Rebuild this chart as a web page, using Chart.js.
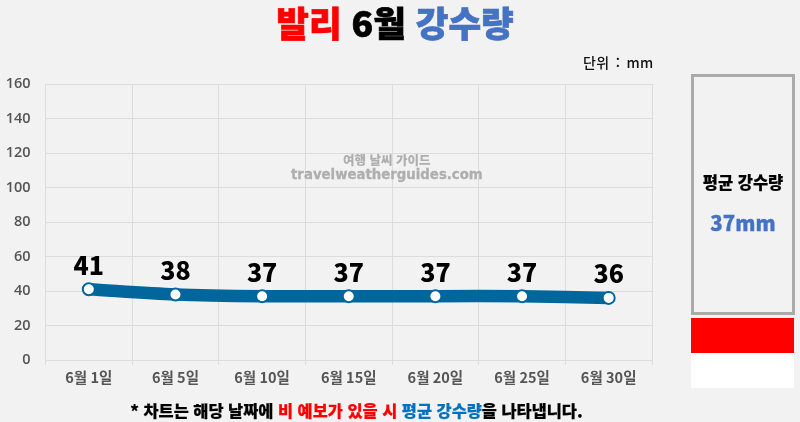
<!DOCTYPE html>
<html lang="ko">
<head>
<meta charset="utf-8">
<title>발리 6월 강수량</title>
<script src="https://cdn.jsdelivr.net/npm/chart.js@4/dist/chart.umd.min.js"></script>
<style>
    html, body { margin: 0; padding: 0; background: #f2f2f2; }
    body { width: 800px; height: 422px; position: relative; overflow: hidden; font-family: "Noto Sans CJK KR", sans-serif; }
    #rainChart { position: absolute; left: 0; top: 0; }
    .abs { position: absolute; white-space: nowrap; line-height: 1; }
    #title { left: 0; width: 790px; top: 4px; text-align: center; font-size: 35.5px; font-weight: 900; color: #000; -webkit-text-stroke: 0.7px currentColor; }
    #unit { left: 583px; top: 55px; font-size: 14px; font-weight: 500; color: #111; word-spacing: 2px; letter-spacing: 0.35px; }
    #mark1 { left: 343px; top: 154px; font-size: 12.5px; font-weight: 900; color: #aeaeae; }
    #mark2 { left: 291px; top: 168px; font-size: 13.3px; font-weight: 700; font-family: "DejaVu Sans", sans-serif; color: #aeaeae; -webkit-text-stroke: 0.3px currentColor; }
    #avgBox { left: 691px; top: 74px; width: 98px; height: 235px; border: 3px solid #aaa; }
    #avgLabel { left: 691px; width: 104px; top: 174px; text-align: center; font-size: 16.5px; font-weight: 900; color: #000; -webkit-text-stroke: 0.2px currentColor; }
    #avgValue { left: 691px; width: 104px; top: 212px; text-align: center; font-size: 20.5px; font-weight: 900; color: #4472c4; -webkit-text-stroke: 0.3px currentColor; }
    #flagRed { left: 691px; top: 318px; width: 103px; height: 35px; background: #ff0000; }
    #flagWhite { left: 691px; top: 353px; width: 103px; height: 35px; background: #fff; }
    #note { left: 0; width: 713px; top: 402px; text-align: center; font-size: 16.4px; font-weight: 900; color: #000; -webkit-text-stroke: 0.2px currentColor; }
    .red { color: #ff0000; }
    .blue { color: #4472c4; }
    .blue2 { color: #0070c0; }
</style>
</head>
<body>
<canvas id="rainChart" width="800" height="422"></canvas>
<div class="abs" id="title"><span class="red">발리</span> 6월 <span class="blue">강수량</span></div>
<div class="abs" id="unit">단위 : mm</div>
<div class="abs" id="mark1">여행 날씨 가이드</div>
<div class="abs" id="mark2">travelweatherguides.com</div>
<div class="abs" id="avgBox"></div>
<div class="abs" id="avgLabel">평균 강수량</div>
<div class="abs" id="avgValue">37mm</div>
<div class="abs" id="flagRed"></div>
<div class="abs" id="flagWhite"></div>
<div class="abs" id="note">* 차트는 해당 날짜에 <span class="red">비 예보가 있을 시</span> <span class="blue2">평균 강수량</span>을 나타냅니다.</div>

<script>
const categories = ['6월 1일', '6월 5일', '6월 10일', '6월 15일', '6월 20일', '6월 25일', '6월 30일'];
const rainfall = [41, 38, 37, 37, 37, 37, 36];
const yTicks = [0, 20, 40, 60, 80, 100, 120, 140, 160];

// value labels above each point
const valueLabels = {
    id: 'valueLabels',
    afterDatasetsDraw(chart) {
        const ctx = chart.ctx;
        ctx.save();
        ctx.font = '900 25px "Noto Sans CJK KR"';
        ctx.fillStyle = '#000';
        ctx.textAlign = 'center';
        ctx.textBaseline = 'middle';
        chart.getDatasetMeta(0).data.forEach((pt, i) => {
            ctx.fillText(rainfall[i], pt.x, pt.y - 24);
        });
        ctx.restore();
    }
};

new Chart(document.getElementById('rainChart').getContext('2d'), {
    type: 'line',
    data: {
        labels: categories,
        datasets: [{
            data: rainfall,
            borderColor: '#00669c',
            borderWidth: 12.5,
            borderCapStyle: 'round',
            tension: 0.3,
            pointRadius: 6,
            pointBackgroundColor: '#fff',
            pointBorderColor: '#00669c',
            pointBorderWidth: 2
        }]
    },
    options: {
        responsive: false,
        animation: false,
        layout: { padding: { left: 0, top: 84, right: 148, bottom: 22 } },
        plugins: { legend: { display: false }, tooltip: { enabled: false } },
        scales: {
            x: {
                offset: true,
                afterFit(scale) { scale.height = 40; },
                border: { color: '#dcdcdc' },
                grid: { offset: true, color: '#dcdcdc', tickLength: 5 },
                ticks: { color: '#555', padding: 4, maxRotation: 0, font: { family: '"Noto Sans CJK KR"', size: 14.5, weight: '700' } }
            },
            y: {
                min: 0,
                max: 160,
                afterFit(scale) { scale.width = 45.5; },
                afterBuildTicks(scale) { scale.ticks = yTicks.map(v => ({ value: v })); },
                border: { color: '#dcdcdc' },
                grid: { color: '#dcdcdc', drawTicks: false },
                ticks: { color: '#555', padding: 15, font: { family: '"Open Sans"', size: 14.5, weight: '600' } }
            }
        }
    },
    plugins: [valueLabels]
});
</script>
</body>
</html>
